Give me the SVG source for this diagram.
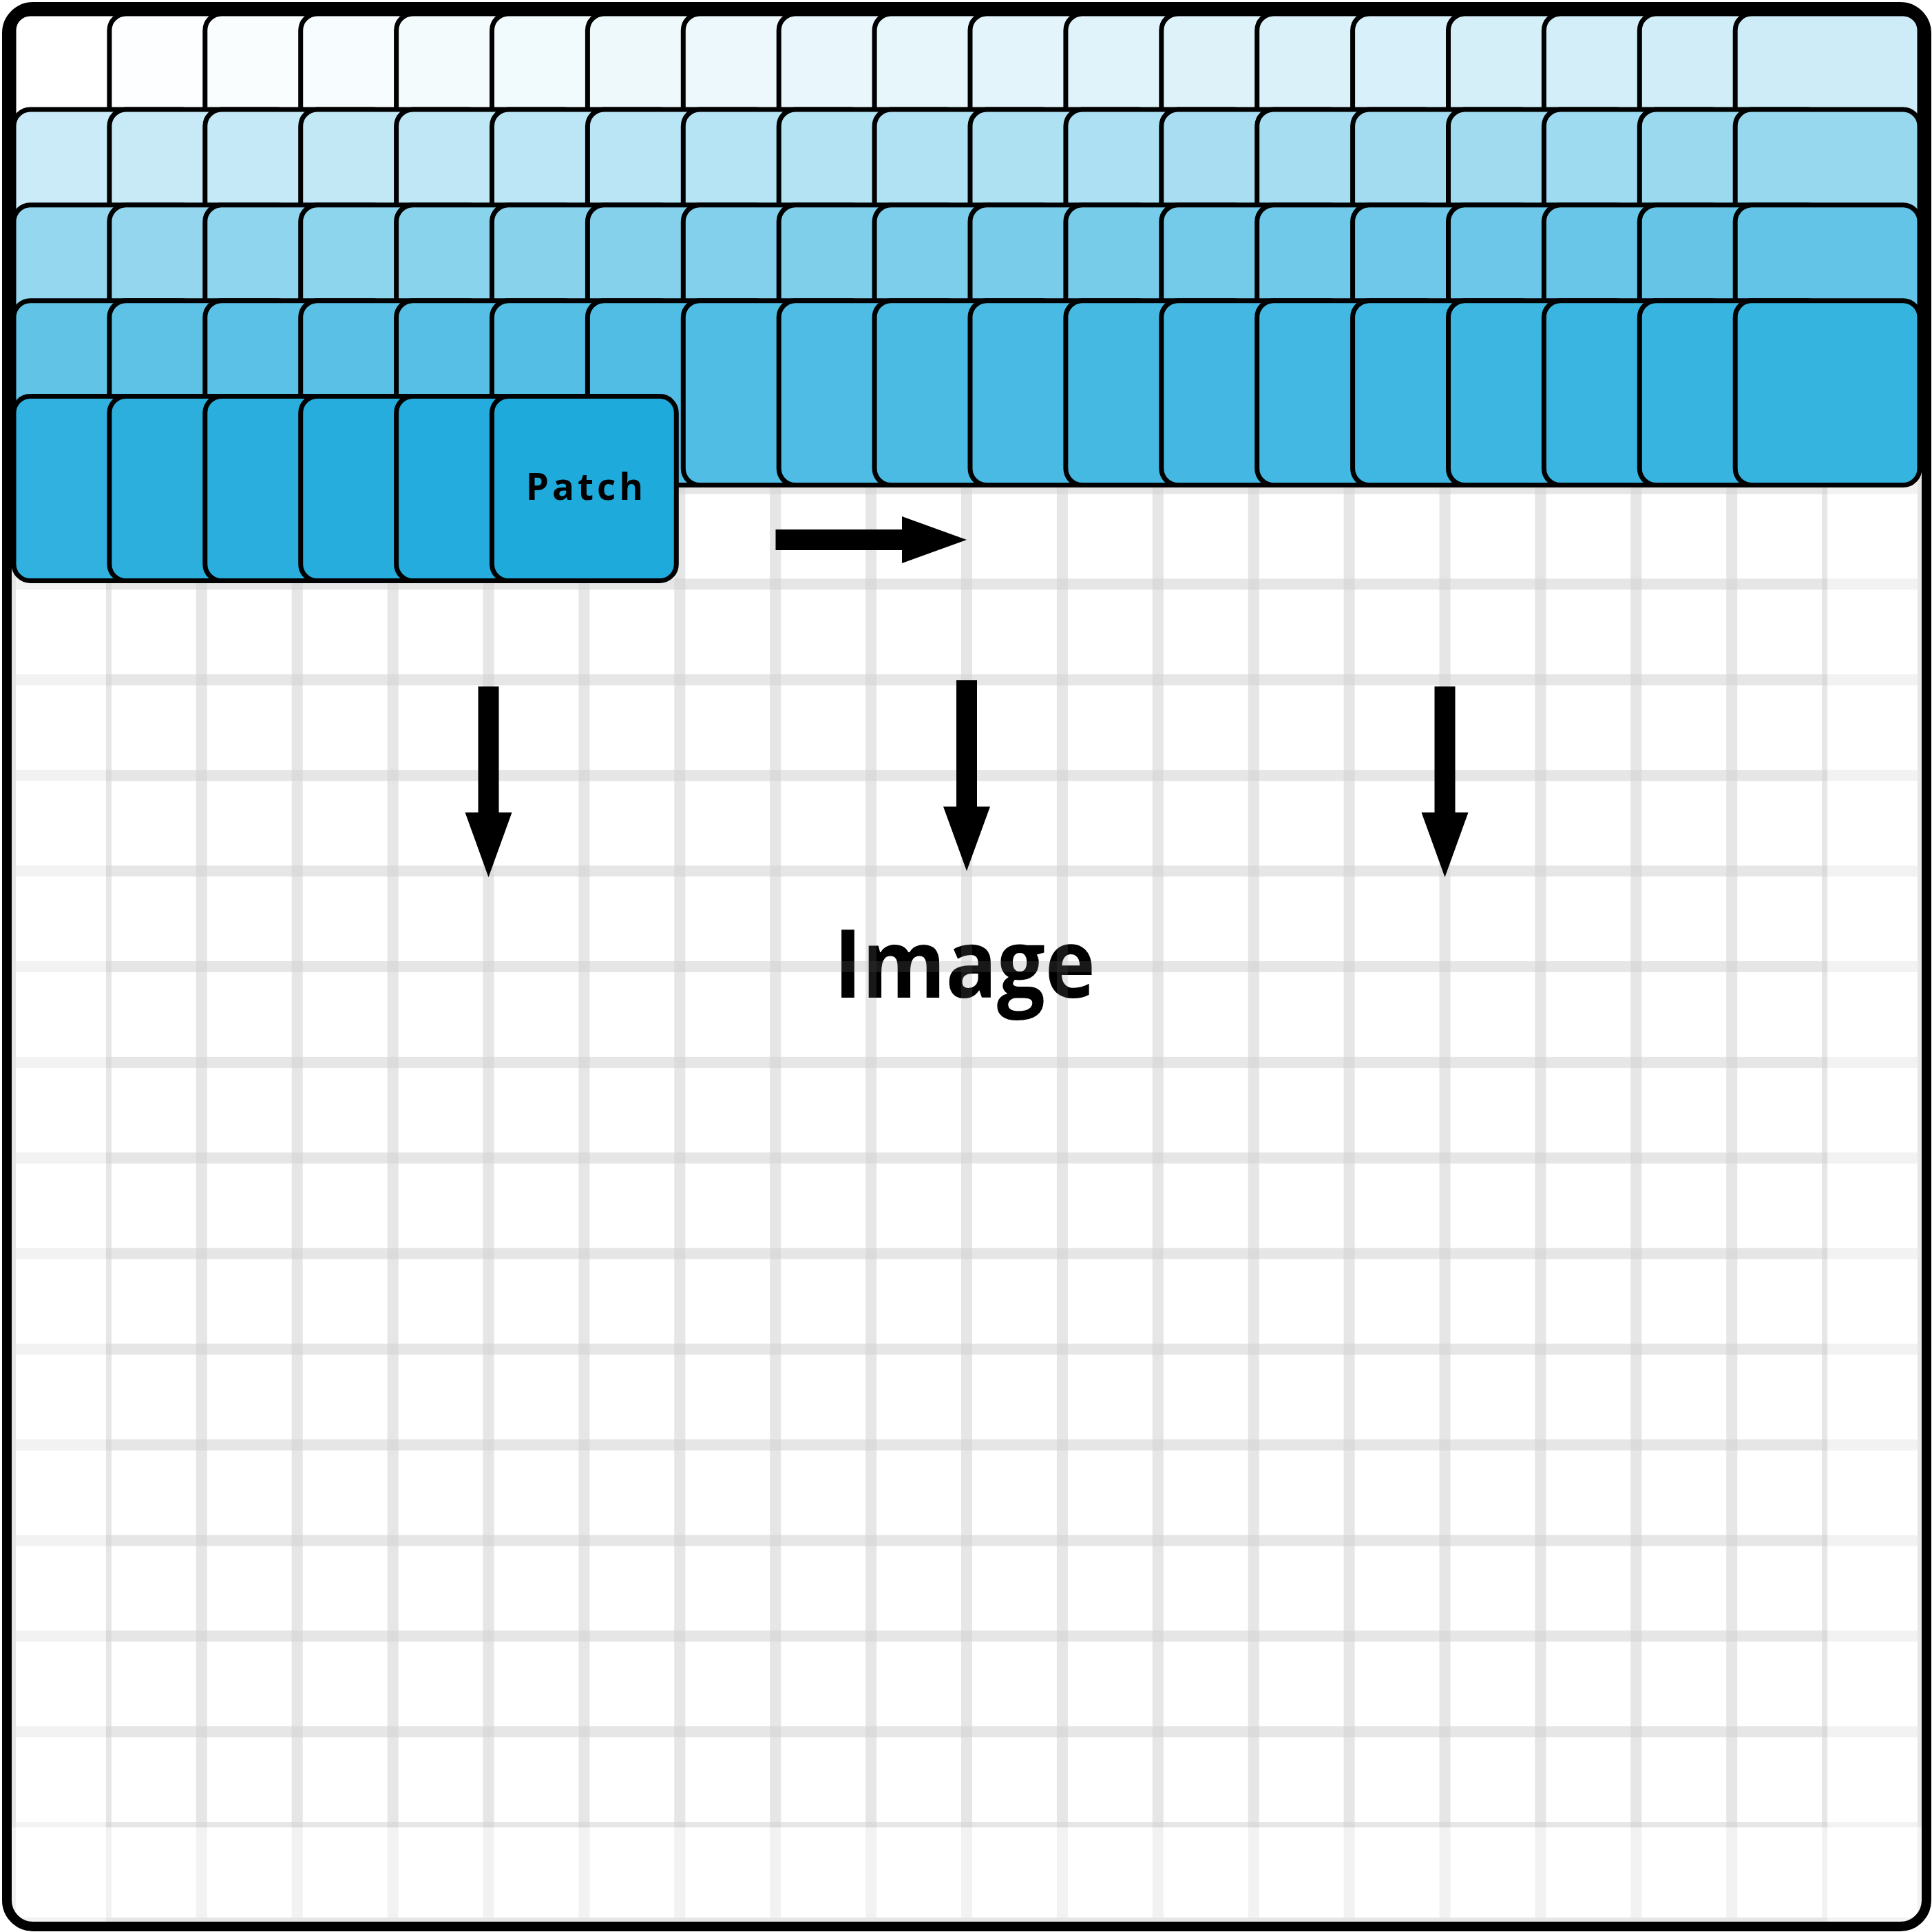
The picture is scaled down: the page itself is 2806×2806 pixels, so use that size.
<svg xmlns="http://www.w3.org/2000/svg" width="2806" height="2806" viewBox="0 0 2806 2806">
<style>
.win{fill:none;stroke:#808080;stroke-opacity:0.1;stroke-width:8}
#tiles rect{width:267.8px;height:267.8px;rx:24px;ry:24px;stroke:#000;stroke-width:7}
.arrow{fill:#000}
.lbl{font-family:"Open Sans","Noto Sans","DejaVu Sans",sans-serif;fill:#000;text-anchor:middle}
.frame{fill:none;stroke:#000;stroke-width:14}
</style>
<defs>
<rect id="win" class="win" x="19" y="19" width="269.8" height="269.8"/>
<g id="gridrow">
<use href="#win" x="0"/><use href="#win" x="138.9"/><use href="#win" x="277.8"/><use href="#win" x="416.7"/><use href="#win" x="555.6"/><use href="#win" x="694.5"/><use href="#win" x="833.4"/><use href="#win" x="972.3"/><use href="#win" x="1111.2"/><use href="#win" x="1250.1"/><use href="#win" x="1389"/><use href="#win" x="1527.9"/><use href="#win" x="1666.8"/><use href="#win" x="1805.7"/><use href="#win" x="1944.6"/><use href="#win" x="2083.5"/><use href="#win" x="2222.4"/><use href="#win" x="2361.3"/><use href="#win" x="2500.2"/>
</g>
</defs>
<rect x="10" y="10" width="2788" height="2788" rx="38" fill="#fff"/>
<g id="image-label"><text class="lbl" x="1401" y="1449" font-size="138.9" font-weight="700" transform="matrix(0.89 0 0 1 154.11 0)">Image</text></g>
<g id="grid">
<use href="#gridrow" y="0"/><use href="#gridrow" y="138.9"/><use href="#gridrow" y="277.8"/><use href="#gridrow" y="416.7"/><use href="#gridrow" y="555.6"/><use href="#gridrow" y="694.5"/><use href="#gridrow" y="833.4"/><use href="#gridrow" y="972.3"/><use href="#gridrow" y="1111.2"/><use href="#gridrow" y="1250.1"/><use href="#gridrow" y="1389"/><use href="#gridrow" y="1527.9"/><use href="#gridrow" y="1666.8"/><use href="#gridrow" y="1805.7"/><use href="#gridrow" y="1944.6"/><use href="#gridrow" y="2083.5"/><use href="#gridrow" y="2222.4"/><use href="#gridrow" y="2361.3"/><use href="#gridrow" y="2500.2"/>
</g>
<g id="connectors">
<polygon class="arrow" points="1126.5,769 1310,769 1310,750 1404,784 1310,818 1310,799 1126.5,799"/>
<polygon class="arrow" points="694.5,997 724.5,997 724.5,1180 743.5,1180 709.5,1274 675.5,1180 694.5,1180"/>
<polygon class="arrow" points="1389,988 1419,988 1419,1171.5 1438,1171.5 1404,1265 1370,1171.5 1389,1171.5"/>
<polygon class="arrow" points="2083.5,997 2113.5,997 2113.5,1180 2132.5,1180 2098.5,1274 2064.5,1180 2083.5,1180"/>
</g>
<g id="tiles">
<g id="row0">
<g id="tile-0-0"><rect x="20" y="20" fill="#ffffff"/></g>
<g id="tile-0-1"><rect x="158.9" y="20" fill="#fcfeff"/></g>
<g id="tile-0-2"><rect x="297.8" y="20" fill="#f9fdfe"/></g>
<g id="tile-0-3"><rect x="436.7" y="20" fill="#f7fcfe"/></g>
<g id="tile-0-4"><rect x="575.6" y="20" fill="#f4fbfd"/></g>
<g id="tile-0-5"><rect x="714.5" y="20" fill="#f1fafd"/></g>
<g id="tile-0-6"><rect x="853.4" y="20" fill="#eef9fc"/></g>
<g id="tile-0-7"><rect x="992.3" y="20" fill="#ecf8fc"/></g>
<g id="tile-0-8"><rect x="1131.2" y="20" fill="#e9f7fc"/></g>
<g id="tile-0-9"><rect x="1270.1" y="20" fill="#e6f6fb"/></g>
<g id="tile-0-10"><rect x="1409" y="20" fill="#e3f5fb"/></g>
<g id="tile-0-11"><rect x="1547.9" y="20" fill="#e0f3fa"/></g>
<g id="tile-0-12"><rect x="1686.8" y="20" fill="#def2fa"/></g>
<g id="tile-0-13"><rect x="1825.7" y="20" fill="#dbf1f9"/></g>
<g id="tile-0-14"><rect x="1964.6" y="20" fill="#d8f0f9"/></g>
<g id="tile-0-15"><rect x="2103.5" y="20" fill="#d5eff9"/></g>
<g id="tile-0-16"><rect x="2242.4" y="20" fill="#d3eef8"/></g>
<g id="tile-0-17"><rect x="2381.3" y="20" fill="#d0edf8"/></g>
<g id="tile-0-18"><rect x="2520.2" y="20" fill="#cdecf7"/></g>
</g>
<g id="row1">
<g id="tile-1-0"><rect x="20" y="158.9" fill="#caebf7"/></g>
<g id="tile-1-1"><rect x="158.9" y="158.9" fill="#c7eaf6"/></g>
<g id="tile-1-2"><rect x="297.8" y="158.9" fill="#c5e9f6"/></g>
<g id="tile-1-3"><rect x="436.7" y="158.9" fill="#c2e8f5"/></g>
<g id="tile-1-4"><rect x="575.6" y="158.9" fill="#bfe7f5"/></g>
<g id="tile-1-5"><rect x="714.5" y="158.9" fill="#bce6f5"/></g>
<g id="tile-1-6"><rect x="853.4" y="158.9" fill="#bae5f4"/></g>
<g id="tile-1-7"><rect x="992.3" y="158.9" fill="#b7e4f4"/></g>
<g id="tile-1-8"><rect x="1131.2" y="158.9" fill="#b4e3f3"/></g>
<g id="tile-1-9"><rect x="1270.1" y="158.9" fill="#b1e2f3"/></g>
<g id="tile-1-10"><rect x="1409" y="158.9" fill="#aee1f2"/></g>
<g id="tile-1-11"><rect x="1547.9" y="158.9" fill="#ace0f2"/></g>
<g id="tile-1-12"><rect x="1686.8" y="158.9" fill="#a9def2"/></g>
<g id="tile-1-13"><rect x="1825.7" y="158.9" fill="#a6ddf1"/></g>
<g id="tile-1-14"><rect x="1964.6" y="158.9" fill="#a3dcf1"/></g>
<g id="tile-1-15"><rect x="2103.5" y="158.9" fill="#a1dbf0"/></g>
<g id="tile-1-16"><rect x="2242.4" y="158.9" fill="#9edaf0"/></g>
<g id="tile-1-17"><rect x="2381.3" y="158.9" fill="#9bd9ef"/></g>
<g id="tile-1-18"><rect x="2520.2" y="158.9" fill="#98d8ef"/></g>
</g>
<g id="row2">
<g id="tile-2-0"><rect x="20" y="297.8" fill="#95d7ef"/></g>
<g id="tile-2-1"><rect x="158.9" y="297.8" fill="#93d6ee"/></g>
<g id="tile-2-2"><rect x="297.8" y="297.8" fill="#90d5ee"/></g>
<g id="tile-2-3"><rect x="436.7" y="297.8" fill="#8dd4ed"/></g>
<g id="tile-2-4"><rect x="575.6" y="297.8" fill="#8ad3ed"/></g>
<g id="tile-2-5"><rect x="714.5" y="297.8" fill="#88d2ec"/></g>
<g id="tile-2-6"><rect x="853.4" y="297.8" fill="#85d1ec"/></g>
<g id="tile-2-7"><rect x="992.3" y="297.8" fill="#82d0ec"/></g>
<g id="tile-2-8"><rect x="1131.2" y="297.8" fill="#7fcfeb"/></g>
<g id="tile-2-9"><rect x="1270.1" y="297.8" fill="#7cceeb"/></g>
<g id="tile-2-10"><rect x="1409" y="297.8" fill="#7acdea"/></g>
<g id="tile-2-11"><rect x="1547.9" y="297.8" fill="#77ccea"/></g>
<g id="tile-2-12"><rect x="1686.8" y="297.8" fill="#74cbe9"/></g>
<g id="tile-2-13"><rect x="1825.7" y="297.8" fill="#71c9e9"/></g>
<g id="tile-2-14"><rect x="1964.6" y="297.8" fill="#6fc8e9"/></g>
<g id="tile-2-15"><rect x="2103.5" y="297.8" fill="#6cc7e8"/></g>
<g id="tile-2-16"><rect x="2242.4" y="297.8" fill="#69c6e8"/></g>
<g id="tile-2-17"><rect x="2381.3" y="297.8" fill="#66c5e7"/></g>
<g id="tile-2-18"><rect x="2520.2" y="297.8" fill="#63c4e7"/></g>
</g>
<g id="row3">
<g id="tile-3-0"><rect x="20" y="436.7" fill="#61c3e6"/></g>
<g id="tile-3-1"><rect x="158.9" y="436.7" fill="#5ec2e6"/></g>
<g id="tile-3-2"><rect x="297.8" y="436.7" fill="#5cc1e6"/></g>
<g id="tile-3-3"><rect x="436.7" y="436.7" fill="#5ac0e5"/></g>
<g id="tile-3-4"><rect x="575.6" y="436.7" fill="#57bfe5"/></g>
<g id="tile-3-5"><rect x="714.5" y="436.7" fill="#55bee5"/></g>
<g id="tile-3-6"><rect x="853.4" y="436.7" fill="#52bde4"/></g>
<g id="tile-3-7"><rect x="992.3" y="436.7" fill="#50bde4"/></g>
<g id="tile-3-8"><rect x="1131.2" y="436.7" fill="#4ebce4"/></g>
<g id="tile-3-9"><rect x="1270.1" y="436.7" fill="#4bbbe3"/></g>
<g id="tile-3-10"><rect x="1409" y="436.7" fill="#49bae3"/></g>
<g id="tile-3-11"><rect x="1547.9" y="436.7" fill="#46b9e3"/></g>
<g id="tile-3-12"><rect x="1686.8" y="436.7" fill="#44b8e2"/></g>
<g id="tile-3-13"><rect x="1825.7" y="436.7" fill="#42b8e2"/></g>
<g id="tile-3-14"><rect x="1964.6" y="436.7" fill="#3fb7e2"/></g>
<g id="tile-3-15"><rect x="2103.5" y="436.7" fill="#3db6e1"/></g>
<g id="tile-3-16"><rect x="2242.4" y="436.7" fill="#3ab5e1"/></g>
<g id="tile-3-17"><rect x="2381.3" y="436.7" fill="#38b4e1"/></g>
<g id="tile-3-18"><rect x="2520.2" y="436.7" fill="#36b4e0"/></g>
</g>
<g id="row4">
<g id="tile-4-0"><rect x="20" y="575.6" fill="#30b1df"/></g>
<g id="tile-4-1"><rect x="158.9" y="575.6" fill="#2dafde"/></g>
<g id="tile-4-2"><rect x="297.8" y="575.6" fill="#2aaede"/></g>
<g id="tile-4-3"><rect x="436.7" y="575.6" fill="#27addd"/></g>
<g id="tile-4-4"><rect x="575.6" y="575.6" fill="#23acdd"/></g>
<g id="patch"><rect x="714.5" y="575.6" fill="#1faadc"/><text class="lbl" x="851.5" y="726" font-size="53" font-weight="700" letter-spacing="5">Patch</text></g>
</g>
</g>
<rect class="frame" x="10" y="10" width="2788" height="2788" rx="38"/>
</svg>
